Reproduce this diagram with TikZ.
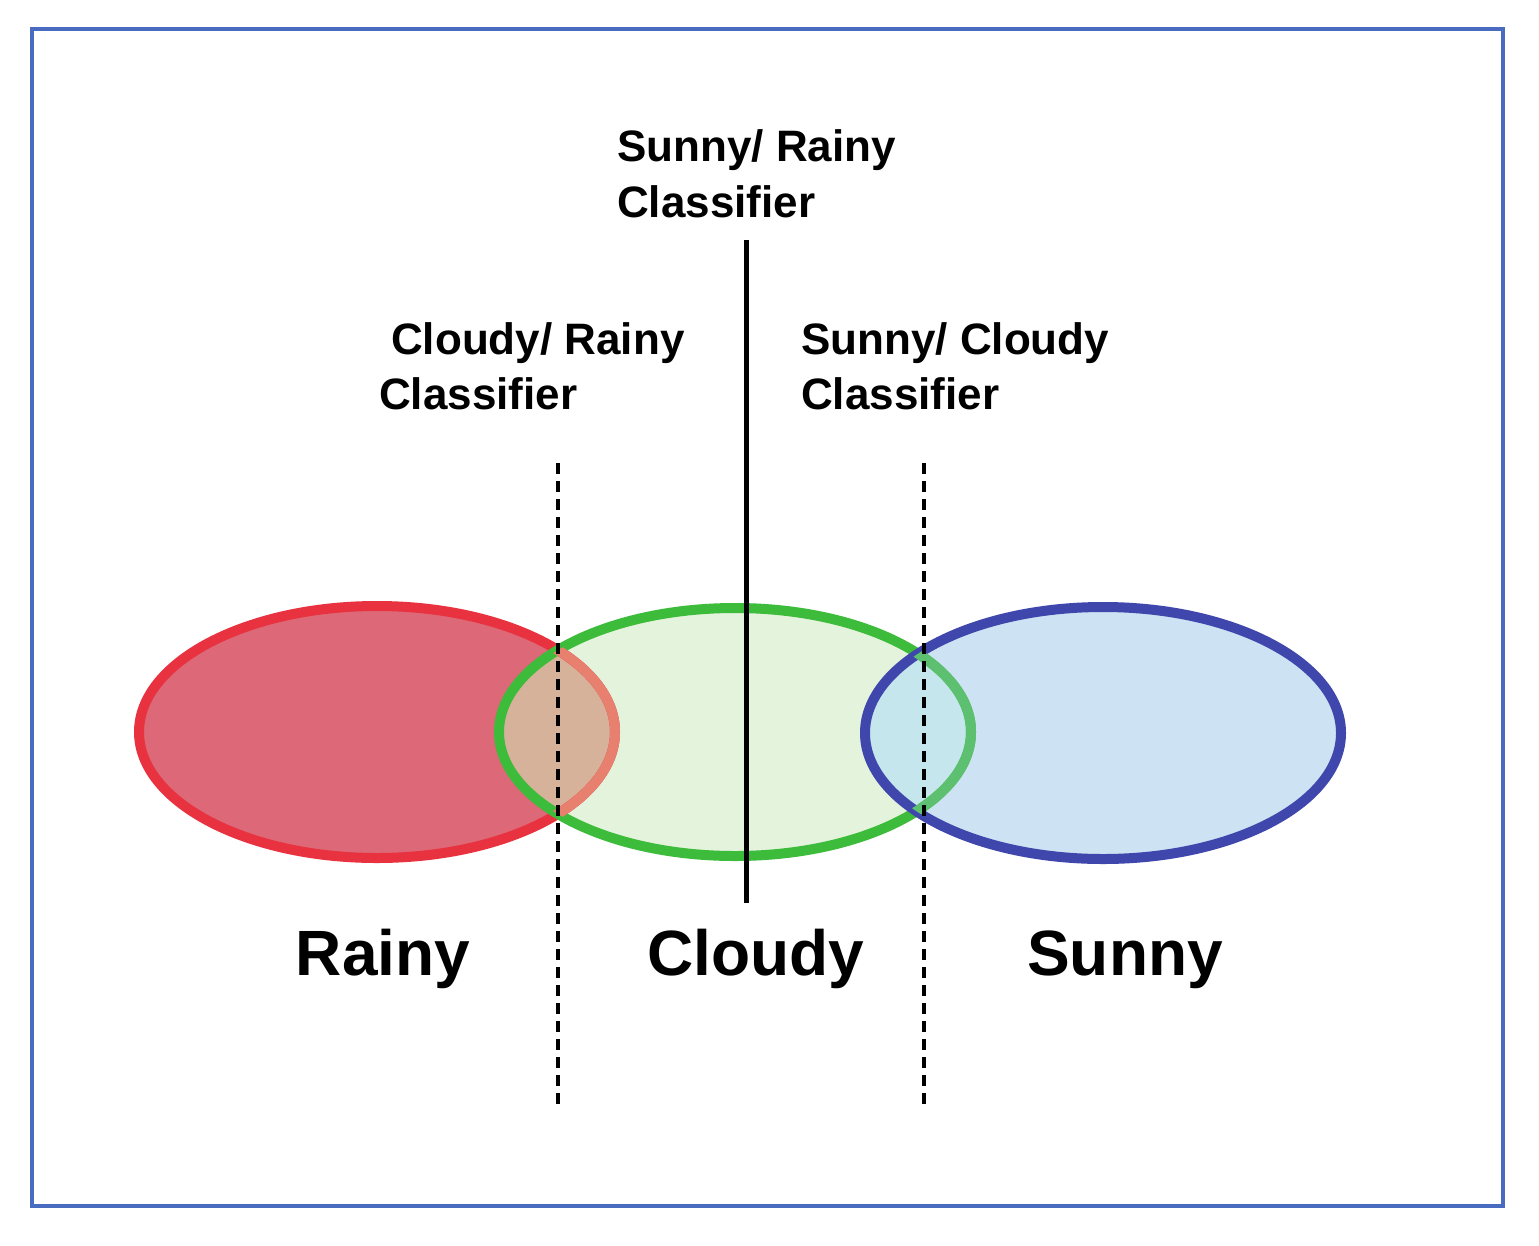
\documentclass[tikz,border=0pt]{standalone}
\usepackage{fontspec}
\setmainfont{Liberation Sans}
\begin{document}
\begin{tikzpicture}[x=1pt,y=-1pt,
  lbl/.style={font=\bfseries\fontsize{44}{54}\selectfont,anchor=base west,inner sep=0},
  big/.style={font=\bfseries\fontsize{64}{70}\selectfont,anchor=base,inner sep=0},
  dsh/.style={line width=4.5,dash pattern=on 11 off 7}]
\useasboundingbox (0,0) rectangle (1539,1245);
\fill[white] (0,0) rectangle (1539,1245);
\draw[line width=4,color={rgb,255:red,74;green,108;blue,192}] (32,29) rectangle (1503,1206);
\definecolor{rf}{RGB}{220,104,120}\definecolor{rs}{RGB}{232,50,63}
\definecolor{gf}{RGB}{228,243,220}\definecolor{gs}{RGB}{61,187,58}
\definecolor{bf}{RGB}{205,227,243}\definecolor{bs}{RGB}{63,71,173}
\def\R{(377,732) ellipse [x radius=238,y radius=126]}
\def\G{(735,732) ellipse [x radius=236,y radius=124]}
\def\B{(1103,733) ellipse [x radius=238,y radius=126]}
\fill[rf] \R; \fill[gf] \G; \fill[bf] \B;
\begin{scope}\clip \R; \fill[color={rgb,255:red,214;green,178;blue,154}] \G;\end{scope}
\begin{scope}\clip \G; \fill[color={rgb,255:red,197;green,230;blue,236}] \B;\end{scope}
\draw[rs,line width=10] \R;
\draw[gs,line width=10] \G;
\begin{scope}\clip \G; \draw[color={rgb,255:red,232;green,128;blue,112},line width=10] \R;\end{scope}
\draw[bs,line width=10] \B;
\begin{scope}\clip \B; \draw[color={rgb,255:red,92;green,192;blue,112},line width=10] \G;\end{scope}
\coordinate (t) at (746,240); \coordinate (b) at (746,903);
\draw[line width=5] (t) -- (b);
\coordinate (d1) at (558,463); \coordinate (d2) at (558,1110);
\coordinate (e1) at (924,463); \coordinate (e2) at (924,1110);
\draw[dsh] (d1) -- (d2); \draw[dsh] (e1) -- (e2);
\node[lbl] (sr1) at (617,161) {Sunny/ Rainy};
\node[lbl] (sr2) at (617,217) {Classifier};
\node[lbl] (cr1) at (391,354) {Cloudy/ Rainy};
\node[lbl] (cr2) at (379,409) {Classifier};
\node[lbl] (sc1) at (801,354) {Sunny/ Cloudy};
\node[lbl] (sc2) at (801,409) {Classifier};
\node[big] (r) at (383,975) {Rainy};
\node[big] (c) at (756,975) {Cloudy};
\node[big] (s) at (1125,975) {Sunny};
\end{tikzpicture}
\end{document}
